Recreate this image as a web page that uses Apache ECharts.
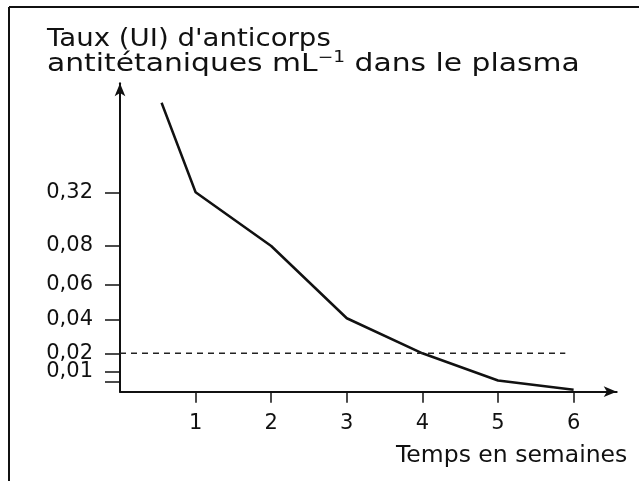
<!DOCTYPE html>
<html><head><meta charset="utf-8">
<script src="https://cdn.jsdelivr.net/npm/echarts@6/dist/echarts.min.js"></script>
<style>html,body{margin:0;padding:0;background:#fff}#c{width:639px;height:481px}</style>
</head><body><div id="c"></div>
<script>
// ---- data ----
const weeks = [0.55, 1, 2, 3, 4, 5, 6];
const antibodyRate = [0.72, 0.32, 0.08, 0.041, 0.02, 0.0056, 0.001];
const yTickValues = [0.005, 0.01, 0.02, 0.04, 0.06, 0.08, 0.32];
const yTickLabels = ['', '0,01', '0,02', '0,04', '0,06', '0,08', '0,32'];
// the printed vertical scale is not linear: graduation of each tick on the axis
const yGraduation = [10, 20, 38.4, 71.7, 106.7, 145.7, 199.4];
const yGraduationMax = 308.4;
const xTickValues = [1, 2, 3, 4, 5, 6];
const xTickLabels = ['1', '2', '3', '4', '5', '6'];
const xMax = 6.57;
const thresholdRate = 0.02;
const thresholdWeeks = [0, 5.89];
const titleLine1 = "Taux (UI) d'anticorps";
const titleLine2a = 'antitétaniques mL';
const titleSup = '−1';
const titleLine2b = ' dans le plasma';
const xAxisName = 'Temps en semaines';

function toGrad(v) {
  const xs = [0].concat(yTickValues), ys = [0].concat(yGraduation);
  for (let i = 1; i < xs.length; i++) {
    if (v <= xs[i]) return ys[i - 1] + (v - xs[i - 1]) / (xs[i] - xs[i - 1]) * (ys[i] - ys[i - 1]);
  }
  const n = xs.length - 1;
  return ys[n] + (v - xs[n]) / (xs[n] - xs[n - 1]) * (ys[n] - ys[n - 1]);
}

const FONT = '"DejaVu Sans", "Liberation Sans", sans-serif';
const INK = '#111';
const chart = echarts.init(document.getElementById('c'), null, {renderer: 'canvas'});
chart.setOption({
  animation: false,
  backgroundColor: '#fff',
  grid: {left: 120, top: 83.3, right: 22.3, bottom: 89.3, containLabel: false},
  xAxis: {
    type: 'value', min: 0, max: xMax,
    axisLine: {show: true, symbol: ['none', 'arrow'], symbolSize: [8, 13], lineStyle: {color: INK, width: 2}},
    axisTick: {show: true, customValues: xTickValues, length: 11, inside: false, lineStyle: {color: INK, width: 1.5}},
    axisLabel: {show: true, customValues: xTickValues, margin: 21, fontSize: 21, fontFamily: FONT, color: INK,
      formatter: v => xTickLabels[xTickValues.indexOf(v)] || ''},
    splitLine: {show: false}
  },
  yAxis: {
    type: 'value', min: 0, max: yGraduationMax,
    axisLine: {show: true, onZero: false, symbol: ['none', 'arrow'], symbolSize: [8, 13], lineStyle: {color: INK, width: 2}},
    axisTick: {show: true, customValues: yGraduation, length: 15, inside: false, lineStyle: {color: INK, width: 1.5}},
    axisLabel: {show: true, customValues: yGraduation, margin: 27, fontSize: 21, fontFamily: FONT, color: INK,
      formatter: v => { const i = yGraduation.findIndex(g => Math.abs(g - v) < 1e-6); return i >= 0 ? yTickLabels[i] : ''; }},
    splitLine: {show: false}
  },
  series: [
    {
      type: 'line', symbol: 'none', silent: true,
      data: weeks.map((w, i) => [w, toGrad(antibodyRate[i])]),
      lineStyle: {color: INK, width: 2.5}
    },
    {
      type: 'line', symbol: 'none', silent: true,
      data: thresholdWeeks.map(w => [w, toGrad(thresholdRate)]),
      lineStyle: {color: '#222', width: 1.5, type: [6, 5]}
    }
  ],
  graphic: [
    {type: 'line', shape: {x1: 9, y1: 7, x2: 639, y2: 7}, style: {stroke: INK, lineWidth: 2}},
    {type: 'line', shape: {x1: 9, y1: 7, x2: 9, y2: 481}, style: {stroke: INK, lineWidth: 2}},
    {type: 'text', x: 47, y: 28, scaleX: 1.15, style: {text: titleLine1, font: '24px ' + FONT, fill: INK}},
    {type: 'text', x: 47, y: 51, scaleX: 1.24, style: {
      text: '{m|' + titleLine2a + '}{s|' + titleSup + '}{m|' + titleLine2b + '}',
      rich: {
        m: {fontSize: 24, fontFamily: FONT, fill: INK, color: INK, lineHeight: 27},
        s: {fontSize: 15, fontFamily: FONT, fill: INK, color: INK, lineHeight: 27, verticalAlign: 'top'}
      }, fill: INK}},
    {type: 'text', x: 396, y: 444, style: {text: xAxisName, font: '23.5px ' + FONT, fill: INK}}
  ]
});
</script></body></html>
